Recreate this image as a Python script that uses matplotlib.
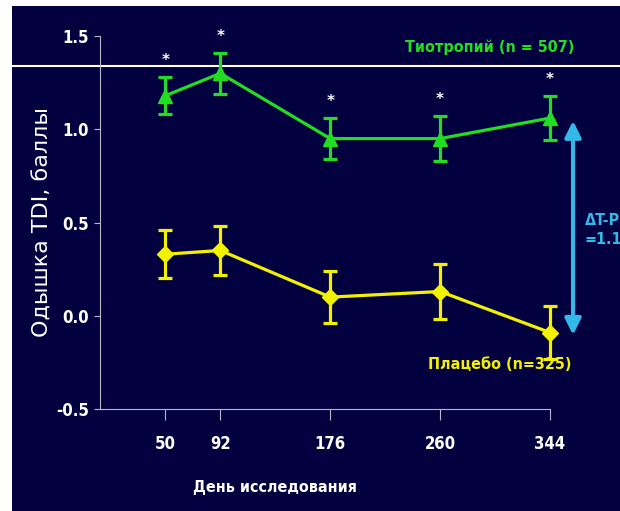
import matplotlib
matplotlib.use("Agg")
import matplotlib.pyplot as plt
from matplotlib.patches import Rectangle
from matplotlib.lines import Line2D

# data
days = [50, 92, 176, 260, 344]
tio_mean = [1.18, 1.30, 0.95, 0.95, 1.06]
tio_err = [0.10, 0.11, 0.11, 0.12, 0.12]
pla_mean = [0.33, 0.35, 0.10, 0.13, -0.09]
pla_err = [0.13, 0.13, 0.14, 0.15, 0.14]
yticks = [-0.5, 0.0, 0.5, 1.0, 1.5]
delta_text = "\u0394T-P\n=1.14"

NAVY = "#03003f"
GREEN = "#22dd22"
YELLOW = "#f2f200"
CYAN = "#33b8ea"
NARROW = dict(family=["DejaVu Sans"], stretch="condensed", weight="bold")
FS = 11.5

fig = plt.figure(figsize=(6.2, 5.11), dpi=100, facecolor="white")

# navy slide background and the white rule across it
fig.patches.append(Rectangle((12 / 620, 0), 1, 505 / 511, transform=fig.transFigure,
                             facecolor=NAVY, edgecolor="none", zorder=-2))
fig.lines.append(Line2D([12 / 620, 1], [1 - 66 / 511] * 2, transform=fig.transFigure,
                        color="white", lw=1.5, zorder=-1))

ax = fig.add_axes([100 / 620, 102 / 511, 450 / 620, 373 / 511])
ax.set_facecolor("none")

ax.errorbar(days, tio_mean, yerr=tio_err, color=GREEN, lw=2.3, marker="^", ms=10,
            capsize=5, capthick=2.3, elinewidth=2.3, clip_on=False)
ax.errorbar(days, pla_mean, yerr=pla_err, color=YELLOW, lw=2.3, marker="D", ms=8,
            capsize=5, capthick=2.3, elinewidth=2.3, clip_on=False)

# significance stars above tiotropium bars
for d, m, e in zip(days, tio_mean, tio_err):
    ax.annotate("*", (d, m + e), xytext=(0, 12), textcoords="offset points",
                ha="center", va="center", color="white", fontsize=11,
                fontweight="bold", annotation_clip=False)

ax.text(233, 1.437, "Тиотропий (n = 507)", color=GREEN, fontsize=FS,
        va="center", **NARROW)
ax.text(251, -0.263, "Плацебо (n=325)", color=YELLOW, fontsize=FS,
        va="center", clip_on=False, **NARROW)

# difference arrow
ax.annotate("", xy=(361.6, -0.118), xytext=(361.6, 1.06),
            arrowprops=dict(arrowstyle="<|-|>", color=CYAN, lw=3, mutation_scale=24),
            annotation_clip=False)
ax.text(370.5, 0.46, delta_text, color=CYAN, fontsize=FS, va="center", ha="left",
        linespacing=1.3, clip_on=False, **NARROW)

ax.set_xlim(0, 344)
ax.set_ylim(-0.5, 1.5)
ax.set_xticks(days)
ax.set_yticks(yticks)
ax.set_yticklabels([f"{v:.1f}" for v in yticks])

for s in ["top", "right"]:
    ax.spines[s].set_visible(False)
for s in ["left", "bottom"]:
    ax.spines[s].set_color("#b8b8c8")
    ax.spines[s].set_linewidth(0.8)

ax.tick_params(axis="x", colors="#b8b8c8", length=8, width=0.8, pad=11,
               labelcolor="white", labelsize=12)
ax.tick_params(axis="y", colors="#b8b8c8", length=4, width=0.8, pad=4,
               labelcolor="white", labelsize=12)
for lab in ax.get_xticklabels() + ax.get_yticklabels():
    lab.set_family(NARROW["family"])
    lab.set_stretch("condensed")
    lab.set_fontweight("bold")

fig.text(43 / 620, 1 - 222 / 511, "Одышка TDI, баллы", rotation=90, color="white",
         fontsize=16, family=["DejaVu Sans"], ha="center", va="center")
fig.text(275 / 620, 1 - 487 / 511, "День исследования", color="white", fontsize=FS,
         ha="center", va="center", **NARROW)

fig.savefig("out.png", dpi=100, facecolor="white")
